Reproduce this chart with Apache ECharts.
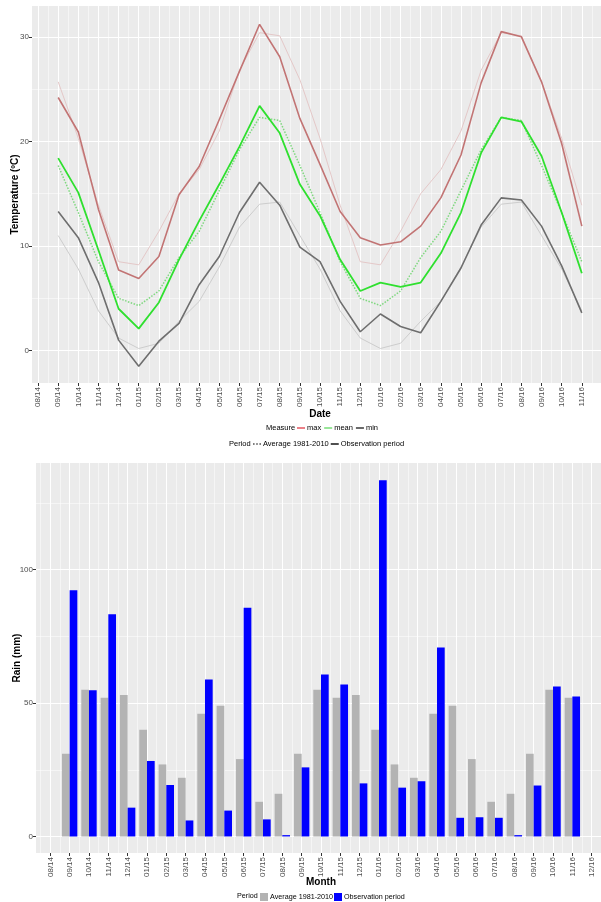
<!DOCTYPE html>
<html><head><meta charset="utf-8">
<script src="https://cdn.jsdelivr.net/npm/echarts@6/dist/echarts.min.js"></script>
<style>html,body{margin:0;padding:0;background:#fff}#c{width:601px;height:902px}</style>
</head><body><div id="c"></div>
<script>
// ---- tick labels ----
const tempMonths = ['08/14','09/14','10/14','11/14','12/14','01/15','02/15','03/15','04/15','05/15','06/15','07/15','08/15','09/15','10/15','11/15','12/15','01/16','02/16','03/16','04/16','05/16','06/16','07/16','08/16','09/16','10/16','11/16'];
const rainMonths = tempMonths.concat(['12/16']);
const tempTicks = [0,10,20,30];
const rainTicks = [0,50,100];

// ---- temperature (09/14 .. 11/16) ----
const obsMax  = [24.2,20.9,13.5,7.7,6.9,9.0,14.9,17.6,22.1,26.7,31.2,28.1,22.2,17.8,13.3,10.8,10.1,10.4,11.9,14.6,18.7,25.6,30.5,30.0,25.7,19.8,11.9];
const avgMax  = [25.7,20.3,13.9,8.5,8.2,11.4,15.0,17.3,21.0,26.8,30.4,30.1,25.9,20.3,13.9,8.5,8.2,11.4,15.0,17.3,21.0,26.8,30.4,30.1,25.7,20.3,13.9];
const obsMean = [18.4,15.1,9.6,4.0,2.1,4.6,8.7,12.4,15.9,19.5,23.4,20.8,15.9,12.9,8.7,5.7,6.5,6.1,6.5,9.3,13.2,18.9,22.3,21.9,18.6,13.2,7.4];
const avgMean = [17.7,13.2,8.5,5.0,4.3,5.7,8.9,11.4,15.3,19.2,22.3,22.0,17.7,13.2,8.5,5.0,4.3,5.7,8.9,11.4,15.3,19.2,22.3,22.0,17.7,13.2,8.5];
const obsMin  = [13.3,10.8,6.5,1.0,-1.5,0.9,2.6,6.3,9.0,13.2,16.1,13.9,9.9,8.5,4.7,1.8,3.5,2.3,1.7,4.7,7.9,12.0,14.6,14.4,11.9,8.1,3.6];
const avgMin  = [11.0,7.8,3.8,1.2,0.2,0.7,2.8,4.7,8.0,11.8,14.0,14.2,11.0,7.8,3.8,1.2,0.2,0.7,2.8,4.7,8.0,11.8,14.0,14.2,11.0,7.8,3.8];

// ---- rain (09/14 .. 11/16) ----
const rainAvg = [31,55,52,53,40,27,22,46,49,29,13,16,31,55,52,53,40,27,22,46,49,29,13,16,31,55,52];
const rainObs = [92.3,54.8,83.3,10.8,28.3,19.3,6.0,58.8,9.7,85.7,6.4,0.5,25.9,60.7,57.0,19.9,133.5,18.3,20.7,70.8,7.0,7.2,7.0,0.5,19.1,56.2,52.5];

const legendNames = {tAvg:'Average 1981-2010', tObs:'Observation period', rAvg:'Average 1981-2010', rObs:'Observation period', max:'max', mean:'mean', min:'min'};

const pts = arr => arr.map((v,i)=>[i+1,v]);
const isInt = v => Math.abs(v-Math.round(v))<1e-6;
const FONT = 'Liberation Sans, Arial, sans-serif';
const TXT = '#4D4D4D';
const LINE_ICON = 'path://M0,0H10V2H0Z';
const DOT_ICON = 'path://M0,0h2v2h-2z M4,0h2v2h-2z M8,0h2v2h-2z';

function xAx(gi, min, max, split, labels, name, gap){
  const idx = labels.map((_,i)=>i);
  return {type:'value', gridIndex:gi, min:min, max:max, splitNumber:split,
    axisLine:{show:false, onZero:false},
    axisTick:{show:true,length:3,customValues:idx,lineStyle:{color:'#333',width:1}},
    minorTick:{show:false, splitNumber:2},
    axisLabel:{rotate:90, fontSize:8, color:TXT, fontFamily:FONT, margin:4, customValues:idx,
      formatter:v=> isInt(v) ? (labels[Math.round(v)]||'') : ''},
    splitLine:{show:true,lineStyle:{color:'#FFFFFF',width:1}},
    minorSplitLine:{show:true,lineStyle:{color:'#FFFFFF',width:0.5}},
    name:name, nameLocation:'middle', nameGap:gap, nameMoveOverlap:false,
    nameTextStyle:{fontSize:10, fontWeight:'bold', color:'#000', fontFamily:FONT}};
}
function yAx(gi, min, max, split, ticks, name, gap){
  return {type:'value', gridIndex:gi, min:min, max:max, splitNumber:split,
    axisLine:{show:false, onZero:false},
    axisTick:{show:true,length:3,customValues:ticks,lineStyle:{color:'#333',width:1}},
    minorTick:{show:false, splitNumber:2},
    axisLabel:{fontSize:8, color:TXT, fontFamily:FONT, margin:3, customValues:ticks,
      formatter:v=> String(Math.round(v))},
    splitLine:{show:true,lineStyle:{color:'#FFFFFF',width:1}},
    minorSplitLine:{show:true,lineStyle:{color:'#FFFFFF',width:0.5}},
    name:name, nameLocation:'middle', nameGap:gap, nameMoveOverlap:false,
    nameTextStyle:{fontSize:10, fontWeight:'bold', color:'#000', fontFamily:FONT}};
}
function line(name, data, color, width, type, z){
  return {name:name, type:'line', xAxisIndex:0, yAxisIndex:0, data:data, symbol:'none', showSymbol:false,
    lineStyle:{color:color, width:width, type:type}, itemStyle:{color:color}, z:z, silent:true, animation:false};
}
const legText = {fontSize:7.5, color:'#000', fontFamily:FONT, padding:[0,0,0,-3]};
const legText2 = {fontSize:7.2, color:'#000', fontFamily:FONT, padding:[0,0,0,-3]};

const chart = echarts.init(document.getElementById('c'), null, {renderer:'canvas'});
chart.setOption({
  animation:false,
  textStyle:{fontFamily:FONT},
  grid:[
    {left:32, top:6, width:576, height:377, show:true, backgroundColor:'#EBEBEB', borderWidth:0, containLabel:false, outerBoundsMode:'none'},
    {left:36, top:463, width:570, height:390, show:true, backgroundColor:'#EBEBEB', borderWidth:0, containLabel:false, outerBoundsMode:'none'}
  ],
  xAxis:[ xAx(0,-0.3,28.3,28,tempMonths,'Date',26), xAx(1,-0.74,28.74,29,rainMonths,'Month',24) ],
  yAxis:[ yAx(0,-3.1,32.95,4,tempTicks,'Temperature (ºC)',12), yAx(1,-6.2,140,3,rainTicks,'Rain (mm)',14) ],
  title:[
    {text:'Measure', left:266, top:424, padding:0, textStyle:{fontSize:7.5, fontWeight:'normal', color:'#000', fontFamily:FONT}},
    {text:'Period', left:229, top:440, padding:0, textStyle:{fontSize:7.5, fontWeight:'normal', color:'#000', fontFamily:FONT}},
    {text:'Period', left:237, top:893, padding:0, textStyle:{fontSize:7.2, fontWeight:'normal', color:'#000', fontFamily:FONT}}
  ],
  legend:[
    {data:[{name:'max',icon:LINE_ICON},{name:'mean',icon:LINE_ICON},{name:'min',icon:LINE_ICON}],
      left:297, top:424, padding:0, itemWidth:8, itemHeight:8, itemGap:3, symbolKeepAspect:true,
      formatter:n=>legendNames[n], textStyle:legText, selectedMode:false},
    {data:[{name:'tAvg',icon:DOT_ICON},{name:'tObs',icon:LINE_ICON}],
      left:253, top:440, padding:0, itemWidth:8, itemHeight:8, itemGap:2, symbolKeepAspect:true,
      formatter:n=>legendNames[n], textStyle:legText, selectedMode:false},
    {data:['rAvg','rObs'], left:260, top:893, padding:0, itemWidth:8, itemHeight:8, itemGap:1, icon:'rect',
      formatter:n=>legendNames[n], textStyle:legText2, selectedMode:false}
  ],
  series:[
    line('avgMax', pts(avgMax), '#E4C8C8', 1, 'solid', 2),
    line('avgMean', pts(avgMean), '#7FD87F', 1.5, 'dotted', 2),
    line('avgMin', pts(avgMin), '#CDCDCD', 1, 'solid', 2),
    line('obsMax', pts(obsMax), '#C27474', 1.6, 'solid', 3),
    line('obsMean', pts(obsMean), '#2FE02F', 1.8, 'solid', 3),
    line('obsMin', pts(obsMin), '#6E6E6E', 1.6, 'solid', 3),
    line('max', [], '#E8606A', 1.6, 'solid', 1),
    line('mean', [], '#7FE07F', 1.6, 'solid', 1),
    line('min', [], '#444444', 1.6, 'solid', 1),
    line('tAvg', [], '#555555', 1.4, 'dotted', 1),
    line('tObs', [], '#222222', 1.6, 'solid', 1),
    {name:'rAvg', type:'bar', xAxisIndex:1, yAxisIndex:1, data:pts(rainAvg), barWidth:7.7, barGap:'0%',
      itemStyle:{color:'#B3B3B3'}, silent:true},
    {name:'rObs', type:'bar', xAxisIndex:1, yAxisIndex:1, data:pts(rainObs), barWidth:7.7, barGap:'0%',
      itemStyle:{color:'#0000FF'}, silent:true}
  ]
});
</script></body></html>
